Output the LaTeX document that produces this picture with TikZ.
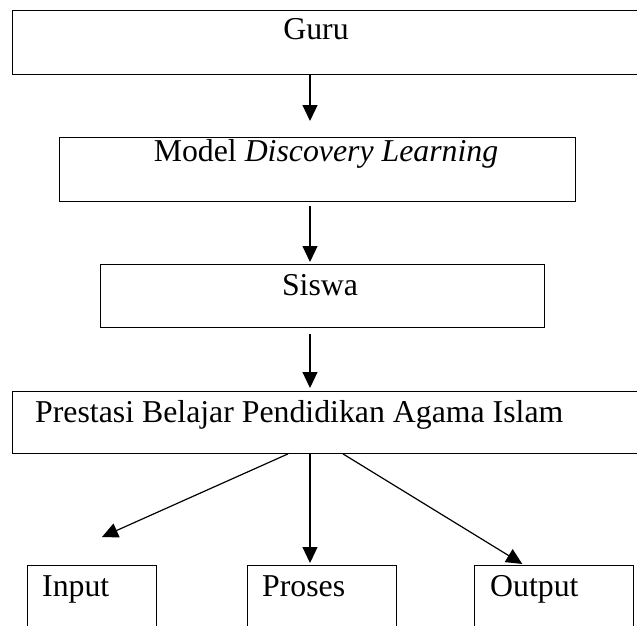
\documentclass[tikz,border=0pt]{standalone}
\usepackage{fontspec}
\setmainfont{Liberation Serif}
\usetikzlibrary{arrows.meta}
\def\fsize{31.8}

\begin{document}
\begin{tikzpicture}[x=1pt, y=-1pt,
  box/.style={draw, line width=0.9pt, rectangle, anchor=north west, inner sep=0pt},
  lbl/.style={inner sep=0pt, font=\fontsize{\fsize}{36}\selectfont},
  arr/.style={-{Triangle[length=16pt, width=15pt]}, line width=1.2pt}]
\useasboundingbox (0,0) rectangle (637,626);
\clip (0,0) rectangle (637,626);

% boxes

\node[box, minimum width=700pt, minimum height=64pt] (guru) at (12,10) {};
\node[box, minimum width=516pt, minimum height=64pt] (model) at (59,137) {};
\node[box, minimum width=444pt, minimum height=63pt] (siswa) at (100,264) {};
\node[box, minimum width=700pt, minimum height=62pt] (prestasi) at (12,391) {};
\node[box, minimum width=129pt, minimum height=80pt] (input) at (27,565) {};
\node[box, minimum width=149pt, minimum height=80pt] (proses) at (247,565) {};
\node[box, minimum width=159pt, minimum height=80pt] (output) at (474,565) {};

% texts

\node[lbl, anchor=base] (tguru) at (316,40) {Guru};
\node[lbl, anchor=base] (tmodel) at (326,161) {Model \textit{Discovery Learning}};
\node[lbl, anchor=base] (tsiswa) at (320,295) {Siswa};
\node[lbl, anchor=base west] (tprestasi) at (35,422) {Prestasi Belajar Pendidikan Agama Islam};
\node[lbl, anchor=base west] (tinput) at (42,596) {Input};
\node[lbl, anchor=base west] (tproses) at (262,596) {Proses};
\node[lbl, anchor=base west] (toutput) at (490,596) {Output};

% arrows

\coordinate (axis) at (310,0);
\draw[arr, shorten >=16pt] (guru.south -| axis) -- (model.north -| axis);
\draw[arr, shorten <=4pt, shorten >=2pt] (model.south -| axis) -- (siswa.north -| axis);
\draw[arr, shorten <=6pt, shorten >=3pt] (siswa.south -| axis) -- (prestasi.north -| axis);
\draw[arr] ([xshift=276pt]prestasi.south west) -- ([xshift=75pt, yshift=28pt]input.north west);
\draw[arr, shorten >=2pt] (prestasi.south -| axis) -- (proses.north -| axis);
\draw[arr, shorten >=2pt] ([xshift=331pt]prestasi.south west) -- ([xshift=50pt]output.north west);

\end{tikzpicture}
\end{document}
